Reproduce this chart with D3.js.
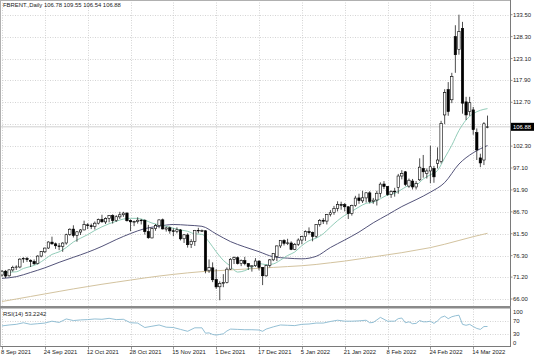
<!DOCTYPE html>
<html><head><meta charset="utf-8">
<script src="https://cdn.jsdelivr.net/npm/d3@7"></script>
<style>html,body{margin:0;padding:0;background:#fff}svg{display:block}</style>
</head><body><svg id="c" width="536" height="357"></svg>
<script>
const dates = [
"2021-09-08","2021-09-09","2021-09-10","2021-09-13","2021-09-14","2021-09-15","2021-09-16","2021-09-17","2021-09-20","2021-09-21","2021-09-22","2021-09-23","2021-09-24","2021-09-27","2021-09-28","2021-09-29","2021-09-30",
"2021-10-01","2021-10-04","2021-10-05","2021-10-06","2021-10-07","2021-10-08","2021-10-11","2021-10-12","2021-10-13","2021-10-14","2021-10-15","2021-10-18","2021-10-19","2021-10-20","2021-10-21","2021-10-22","2021-10-25","2021-10-26","2021-10-27","2021-10-28","2021-10-29",
"2021-11-01","2021-11-02","2021-11-03","2021-11-04","2021-11-05","2021-11-08","2021-11-09","2021-11-10","2021-11-11","2021-11-12","2021-11-15","2021-11-16","2021-11-17","2021-11-18","2021-11-19","2021-11-22","2021-11-23","2021-11-24","2021-11-25","2021-11-26","2021-11-29","2021-11-30",
"2021-12-01","2021-12-02","2021-12-03","2021-12-06","2021-12-07","2021-12-08","2021-12-09","2021-12-10","2021-12-13","2021-12-14","2021-12-15","2021-12-16","2021-12-17","2021-12-20","2021-12-21","2021-12-22","2021-12-23","2021-12-27","2021-12-28","2021-12-29","2021-12-30","2021-12-31",
"2022-01-03","2022-01-04","2022-01-05","2022-01-06","2022-01-07","2022-01-10","2022-01-11","2022-01-12","2022-01-13","2022-01-14","2022-01-17","2022-01-18","2022-01-19","2022-01-20","2022-01-21","2022-01-24","2022-01-25","2022-01-26","2022-01-27","2022-01-28","2022-01-31",
"2022-02-01","2022-02-02","2022-02-03","2022-02-04","2022-02-07","2022-02-08","2022-02-09","2022-02-10","2022-02-11","2022-02-14","2022-02-15","2022-02-16","2022-02-17","2022-02-18","2022-02-21","2022-02-22","2022-02-23","2022-02-24","2022-02-25","2022-02-28",
"2022-03-01","2022-03-02","2022-03-03","2022-03-04","2022-03-07","2022-03-08","2022-03-09","2022-03-10","2022-03-11","2022-03-14","2022-03-15","2022-03-16","2022-03-17","2022-03-18"];

const opens = [71.7,72.6,71.5,72.9,73.5,73.6,75.5,75.6,75.2,74.9,74.4,76.2,77.2,78.1,79.5,79.1,78.6,
78.5,79.3,81.3,82.6,81.1,81.9,82.4,83.6,83.4,83.2,84.0,84.9,84.3,85.1,85.8,84.6,85.5,86.0,86.4,84.6,84.3,
84.4,84.7,84.7,82.0,80.5,82.7,83.4,84.8,82.6,82.9,82.2,82.0,82.4,80.3,81.2,78.9,79.7,82.3,82.2,82.2,72.7,73.4,
70.6,68.9,69.7,69.9,73.1,75.4,75.8,74.4,75.1,74.4,73.7,73.9,75.0,73.5,71.5,74.0,75.3,76.1,78.6,79.9,79.2,79.3,
77.8,79.0,80.0,80.8,82.0,81.8,80.9,83.7,84.7,84.5,86.1,86.5,87.5,88.4,88.4,87.9,86.3,88.2,90.0,89.3,90.0,
91.2,89.2,89.5,91.1,93.3,92.7,90.8,91.6,92.5,95.2,96.2,92.8,94.0,92.6,94.3,97.0,95.8,96.4,97.0,98.2,
98.6,109.7,115.7,113.3,128.3,125.2,130.2,112.8,110.5,110.9,105.5,99.5,99.0,106.78];
const highs = [72.9,72.9,73.0,73.9,74.0,75.7,75.9,76.0,75.4,75.4,76.4,77.4,78.2,79.7,80.8,79.4,79.3,
79.5,81.5,82.8,83.5,82.1,82.6,84.6,84.0,83.9,84.4,85.1,86.0,85.4,85.9,86.1,85.9,86.7,86.7,86.6,84.9,84.6,
85.4,85.0,84.9,83.6,82.9,83.8,84.9,85.1,83.2,83.2,82.8,83.0,82.6,81.4,81.6,80.2,82.4,82.9,82.5,82.3,75.4,74.7,
73.1,70.2,71.9,73.5,75.7,76.1,76.1,75.4,76.0,74.5,74.0,75.7,75.2,73.6,74.2,75.5,76.9,78.7,79.9,80.2,80.3,79.7,
79.3,80.4,81.0,82.3,83.0,82.0,83.8,85.0,85.2,86.2,87.1,88.1,89.2,89.1,88.8,88.0,88.4,90.5,91.0,91.7,91.3,
91.6,90.0,91.7,93.7,94.0,92.8,91.8,92.4,95.7,96.6,96.4,94.6,94.5,94.0,99.4,100.2,97.0,102.4,97.6,102.0,
108.3,115.8,117.5,119.7,131.0,133.5,131.8,114.0,114.0,111.6,106.5,100.5,108.0,109.55];
const lows = [71.3,71.0,71.3,72.5,72.9,73.3,74.6,74.8,73.6,74.1,74.2,75.9,76.9,77.9,78.9,77.9,77.6,
77.2,78.9,81.0,80.6,79.6,81.2,82.3,82.6,82.6,82.5,83.7,84.1,83.8,84.2,83.9,84.3,85.0,85.5,84.4,82.1,83.3,
83.9,83.7,81.3,80.3,80.4,82.2,82.8,82.5,82.0,81.5,80.9,81.6,79.9,79.3,78.2,78.1,78.6,81.6,81.9,72.1,72.2,70.0,
68.4,65.7,68.8,69.7,72.9,74.3,74.2,73.8,74.0,72.9,72.5,73.6,72.8,69.3,71.3,73.5,75.0,75.0,78.1,78.7,78.8,77.6,
77.6,78.6,79.0,79.8,81.3,79.7,80.5,83.2,83.8,83.7,85.6,86.0,86.8,87.2,86.8,85.0,85.8,87.9,88.6,88.8,88.9,
88.7,88.6,88.2,90.1,92.1,90.5,90.0,90.3,91.0,94.4,92.8,92.4,92.0,92.0,94.0,94.8,94.6,93.5,93.6,97.0,
98.2,107.5,109.5,112.5,119.7,124.0,110.0,108.5,109.5,105.0,99.0,97.3,97.8,106.54];
const closes = [72.60,71.45,72.92,73.51,73.60,75.46,75.67,75.34,74.92,74.36,76.19,77.25,78.09,79.53,79.09,78.64,78.52,
79.28,81.26,82.56,81.08,81.95,82.39,83.65,83.42,83.18,84.00,84.86,84.33,85.08,85.82,84.61,85.53,85.99,86.40,84.58,84.32,84.38,
84.71,84.72,81.99,80.54,82.74,83.43,84.78,82.64,82.87,82.17,82.05,82.43,80.28,81.24,78.89,79.70,82.31,82.25,82.22,72.72,73.44,70.57,
68.87,69.67,69.88,73.08,75.44,75.82,74.42,75.15,74.39,73.70,73.88,75.02,73.52,71.52,73.98,75.29,76.85,78.60,79.94,79.23,79.32,77.78,
78.98,80.00,80.80,81.99,81.75,80.87,83.72,84.67,84.47,86.06,86.48,87.51,88.44,88.38,87.89,86.27,88.20,89.96,89.34,90.03,91.21,
89.16,89.47,91.11,93.27,92.69,90.78,91.55,91.41,95.2,95.8,93.2,94.2,92.6,93.4,97.3,96.2,96.4,97.4,95.0,99.0,
107.7,115.0,110.5,118.8,124.0,129.5,112.5,109.7,112.6,106.2,101.4,98.3,107.6,106.88];

// moving averages (fast MA every 2 bars, slow MAs every 4 bars)
const maFast = [72.26,72.36,72.46,73.25,73.72,74.34,75.44,76.59,77.19,78.22,79.53,80.43,81.28,82.28,83.14,83.87,84.45,84.98,85.15,85.14,
84.72,84.04,83.62,83.28,82.79,82.39,82.08,81.46,81.35,79.55,77.22,75.16,73.81,72.39,72.73,73.54,74.44,74.14,74.33,75.23,
76.33,77.15,78.68,79.84,80.44,81.50,83.08,84.60,85.85,86.84,87.85,88.72,88.99,89.80,90.70,91.07,92.04,92.92,93.08,94.5,
95.5,96.5,99.5,102.5,106,108.5,110,110.8,111.2];
const maSlow = [70.9,71.3,72.3,73.4,74.7,75.9,77.1,78.5,80.11,81.54,82.71,83.29,83.69,83.52,83.26,81.45,79.63,78.36,77.23,76.03,
75.70,75.54,76.13,78.22,80.01,81.89,84.09,85.99,87.95,89.58,91.36,93.64,98.04,100.72,102.43];
const ma200 = [65.4,66.0,66.6,67.2,67.8,68.4,68.95,69.5,70.0,70.5,71.0,71.45,71.85,72.2,72.5,72.7,72.9,73.1,73.3,73.5,
73.7,73.9,74.2,74.6,75.0,75.5,76.0,76.5,77.0,77.6,78.2,79.0,79.9,80.8,81.6];

const rsiBars = [0,2,4,6,8,10,12,14,16,18,20,22,24,26,28,30,32,34,36,38,40,42,44,46,48,50,52,54,56,57,58,59,60,61,62,63,64,66,68,70,72,73,74,76,78,80,82,84,86,88,90,92,94,96,98,100,102,103,104,106,108,110,111,112,113,114,115,116,117,118,119,120,121,122,123,124,125,126,127,128,129,130,131,132,133,134,135,136];
const rsiValues = [55,58,60,65,60,62,64,70,66,77,72,74,75,77,76,79,75,76,65,64,50,54,58,51,50,44,38,49,49,32,33,28,26,28,30,39,45,44,43,43,42,38,45,52,58,57,56,60,61,64,64,69,73,70,70,71,73,65,66,82,70,70,78,80,65,68,62,63,72,68,68,70,63,71,82,86,78,84,87,89,60,57,60,53,47,44,53,53.2];

const priceTicks = [133.50,128.30,123.10,117.90,112.70,107.50,102.30,97.10,91.90,86.70,81.50,76.30,71.20,66.00];
const rsiTicks = [100,70,30,0];
const dateTickStep = 12;
const title = "FBRENT.,Daily  106.78 109.55 106.54 106.88";
const rsiTitle = "RSI(14) 53.2242";
const lastPrice = 106.88;

const svg = d3.select("#c");
const W = 536, H = 357;
const plotRight = 510;
const mainTop = 0, mainBottom = 305.5;
const rsiTop = 309, rsiBottom = 346.5;
const font = "'Liberation Sans', Arial, sans-serif";
const fs = 5.9;

const x = d3.scalePoint().domain(dates).range([2, 487.5]);
const y = d3.scaleLinear().domain([66, 133.5]).range([299, 14.7]);
const yr = d3.scaleLinear().domain([0, 100]).range([343.3, 311.7]);
const parse = d3.timeParse("%Y-%m-%d");
const fmt = d3.timeFormat("%-d %b %Y");

svg.append("rect").attr("width", W).attr("height", H).attr("fill", "#fff");

const tickDates = dates.filter((d, i) => i % dateTickStep === 0);

// grid
const grid = svg.append("g").attr("stroke", "#c9c9c9").attr("stroke-width", 0.8).attr("stroke-dasharray", "1,1.5");
grid.selectAll(".hg").data(priceTicks).join("line")
  .attr("x1", 0).attr("x2", plotRight).attr("y1", d => Math.round(y(d)) + 0.5).attr("y2", d => Math.round(y(d)) + 0.5);
grid.selectAll(".vg").data(tickDates).join("line")
  .attr("x1", d => Math.round(x(d)) + 0.5).attr("x2", d => Math.round(x(d)) + 0.5).attr("y1", mainTop).attr("y2", mainBottom);
grid.selectAll(".vg2").data(tickDates).join("line")
  .attr("x1", d => Math.round(x(d)) + 0.5).attr("x2", d => Math.round(x(d)) + 0.5).attr("y1", rsiTop).attr("y2", rsiBottom);
grid.selectAll(".rg").data([70, 30]).join("line")
  .attr("x1", 0).attr("x2", plotRight).attr("y1", d => Math.round(yr(d)) + 0.5).attr("y2", d => Math.round(yr(d)) + 0.5);

// bid line
svg.append("line").attr("x1", 0).attr("x2", plotRight)
  .attr("y1", y(lastPrice)).attr("y2", y(lastPrice)).attr("stroke", "#c4c4c4").attr("stroke-width", 0.8);

// moving averages
const line = d3.line().x(d => x(d[0])).y(d => y(d[1]));
const mk = (vals, step) => vals.map((v, i) => [dates[Math.min(i * step, dates.length - 1)], v]);
svg.append("path").datum(mk(ma200, 4)).attr("d", line).attr("fill", "none").attr("stroke", "#d3c39f").attr("stroke-width", 1);
svg.append("path").datum(mk(maSlow, 4)).attr("d", d3.line().curve(d3.curveMonotoneX).x(d => x(d[0])).y(d => y(d[1])))
  .attr("fill", "none").attr("stroke", "#40406a").attr("stroke-width", 0.9);
svg.append("path").datum(mk(maFast, 2)).attr("d", d3.line().curve(d3.curveMonotoneX).x(d => x(d[0])).y(d => y(d[1])))
  .attr("fill", "none").attr("stroke", "#86c6b0").attr("stroke-width", 0.9);

// candles
const candles = dates.map((d, i) => ({d, o: opens[i], h: highs[i], l: lows[i], c: closes[i]}));
const cg = svg.append("g");
cg.selectAll(".wick").data(candles).join("line")
  .attr("x1", d => x(d.d)).attr("x2", d => x(d.d))
  .attr("y1", d => y(d.h)).attr("y2", d => y(d.l))
  .attr("stroke", "#000").attr("stroke-width", 0.7);
const bw = 2.4;
cg.selectAll(".body").data(candles).join("rect")
  .attr("x", d => x(d.d) - bw / 2).attr("width", bw)
  .attr("y", d => y(Math.max(d.o, d.c)))
  .attr("height", d => Math.max(0.6, Math.abs(y(d.o) - y(d.c))))
  .attr("fill", d => d.c >= d.o ? "#fff" : "#000")
  .attr("stroke", "#000").attr("stroke-width", 0.6);

// RSI
svg.append("path").datum(rsiBars.map((b, i) => [dates[b], rsiValues[i]]))
  .attr("d", d3.line().x(d => x(d[0])).y(d => yr(d[1])))
  .attr("fill", "none").attr("stroke", "#7fb3cc").attr("stroke-width", 0.85);

// frame
const frame = svg.append("g").attr("stroke", "#7a7a7a").attr("fill", "none");
frame.append("line").attr("x1", plotRight + 0.5).attr("x2", plotRight + 0.5).attr("y1", 0).attr("y2", rsiBottom).attr("stroke-width", 1);
frame.append("line").attr("x1", 0).attr("x2", plotRight + 1).attr("y1", rsiBottom).attr("y2", rsiBottom).attr("stroke-width", 1);
frame.append("line").attr("x1", 0.5).attr("x2", 0.5).attr("y1", 0).attr("y2", rsiBottom).attr("stroke", "#b0b0b0").attr("stroke-width", 1);
frame.append("line").attr("x1", 0).attr("x2", plotRight).attr("y1", 0.5).attr("y2", 0.5).attr("stroke", "#b0b0b0").attr("stroke-width", 1);
svg.append("rect").attr("x", 0).attr("y", 306).attr("width", plotRight + 1).attr("height", 2.5).attr("fill", "#8a8a8a");

// right axis ticks and labels (the label hidden behind the last-price box is skipped)
const ly = y(lastPrice);
const visibleTicks = priceTicks.filter(d => Math.abs(y(d) - ly) > 7);
const ax = svg.append("g").attr("font-family", font).attr("font-size", fs).attr("fill", "#222");
ax.selectAll(".pt").data(priceTicks).join("line")
  .attr("x1", plotRight).attr("x2", plotRight + 2.5).attr("y1", d => y(d)).attr("y2", d => y(d))
  .attr("stroke", "#7a7a7a").attr("stroke-width", 0.8);
ax.selectAll(".pl").data(visibleTicks).join("text")
  .attr("x", plotRight + 3).attr("y", d => y(d) + 2).text(d => d3.format(".2f")(d));
ax.selectAll(".rl").data(rsiTicks).join("text")
  .attr("x", plotRight + 3).attr("y", d => yr(d) + 2).text(d => d);

// last price box
svg.append("rect").attr("x", plotRight + 1).attr("y", ly - 4).attr("width", 23).attr("height", 8).attr("fill", "#000");
svg.append("text").attr("x", plotRight + 3).attr("y", ly + 2).attr("font-family", font).attr("font-size", fs)
  .attr("fill", "#fff").text(d3.format(".2f")(lastPrice));

// date axis
ax.selectAll(".dt").data(tickDates).join("line")
  .attr("x1", d => Math.round(x(d)) + 0.5).attr("x2", d => Math.round(x(d)) + 0.5)
  .attr("y1", rsiBottom).attr("y2", rsiBottom + 3).attr("stroke", "#7a7a7a").attr("stroke-width", 0.8);
ax.selectAll(".dl").data(tickDates).join("text")
  .attr("x", d => x(d) - 1).attr("y", 354).text(d => fmt(parse(d)));

// titles
svg.append("text").attr("x", 3).attr("y", 7).attr("font-family", font).attr("font-size", fs).attr("fill", "#222").text(title);
svg.append("text").attr("x", 3).attr("y", 316).attr("font-family", font).attr("font-size", fs).attr("fill", "#222").text(rsiTitle);
</script></body></html>
